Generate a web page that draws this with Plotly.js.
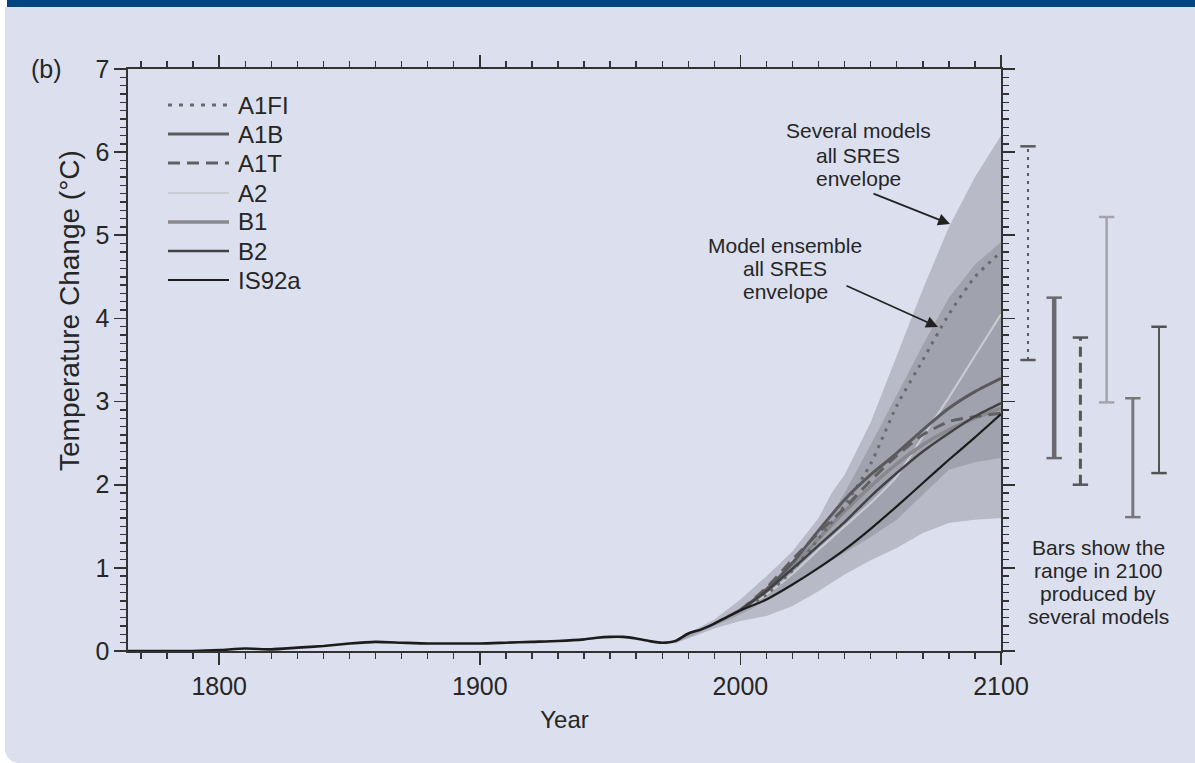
<!DOCTYPE html>
<html>
<head>
<meta charset="utf-8">
<script src="https://cdn.plot.ly/plotly-3.0.1.min.js"></script>
<style>
  html, body { margin:0; padding:0; background:#ffffff; width:1195px; height:763px; overflow:hidden; }
  #hdr { position:absolute; left:7px; top:0; width:1188px; height:7px; background:#03457f; }
  #panel { position:absolute; left:5px; top:7px; width:1190px; height:756px; background:#dce0ee; border-bottom-left-radius:14px; }
  #chart { position:absolute; left:0; top:0; width:1195px; height:763px; }
</style>
</head>
<body>
<div id="hdr"></div>
<div id="panel"></div>
<div id="chart"></div>
<script>
// ---------------- DATA ----------------
const histYears = [1765,1780,1790,1800,1810,1820,1830,1840,1850,1860,1870,1880,1890,1900,1910,1920,1930,1940,1945,1950,1955,1960,1965,1970,1975,1980,1985,1990,1995,2000];
const histTemp  = [0.00,0.00,0.00,0.01,0.03,0.02,0.04,0.06,0.09,0.11,0.10,0.09,0.09,0.09,0.10,0.11,0.12,0.14,0.16,0.17,0.17,0.15,0.12,0.10,0.12,0.21,0.26,0.33,0.41,0.49];

const projYears = [2000,2010,2020,2030,2040,2050,2060,2070,2080,2090,2100];
const A1FI  = [0.49,0.68,0.97,1.35,1.75,2.25,2.95,3.50,4.05,4.50,4.80];
const A1B   = [0.49,0.74,1.06,1.45,1.82,2.12,2.38,2.66,2.92,3.12,3.28];
const A1T   = [0.49,0.76,1.10,1.42,1.72,2.05,2.35,2.60,2.76,2.82,2.86];
const A2    = [0.49,0.68,0.93,1.22,1.50,1.78,2.10,2.58,3.05,3.55,4.05];
const B1    = [0.49,0.72,1.02,1.35,1.68,1.98,2.25,2.48,2.66,2.80,2.92];
const B2    = [0.49,0.72,0.99,1.27,1.55,1.86,2.14,2.40,2.62,2.82,2.98];
const IS92a = [0.49,0.62,0.80,1.00,1.22,1.47,1.74,2.02,2.30,2.57,2.85];

const envYears   = [1975,1990,2000,2010,2020,2030,2035,2040,2050,2060,2070,2080,2090,2100];
const outerUpper = [0.13,0.38,0.62,0.90,1.20,1.60,1.90,2.12,2.75,3.55,4.35,5.10,5.70,6.20];
const outerLower = [0.09,0.27,0.36,0.42,0.54,0.72,0.82,0.92,1.09,1.24,1.42,1.54,1.58,1.60];
const innerUpper = [0.12,0.35,0.52,0.72,1.05,1.45,1.65,1.90,2.48,3.08,3.68,4.25,4.65,4.92];
const innerLower = [0.10,0.30,0.44,0.60,0.79,0.99,1.09,1.18,1.37,1.58,1.88,2.18,2.27,2.32];

const barNames = ['A1FI','A1B','A1T','A2','B1','B2'];
const barLow   = [3.50,2.32,2.00,2.99,1.61,2.14];
const barHigh  = [6.07,4.25,3.77,5.22,3.04,3.90];

const xTickVals = [1800,1900,2000,2100];
const yTickVals = [0,1,2,3,4,5,6,7];

// ---------------- STYLES ----------------
const FONT = 'Arial, "Liberation Sans", Helvetica, sans-serif';
const TXT = '#262626';
const styles = {
  A1FI:  {color:'#6a6a6e', width:3,   dash:'3px,6px'},
  A1B:   {color:'#5a5a5e', width:3,   dash:'solid'},
  A1T:   {color:'#606064', width:3,   dash:'12px,7px'},
  A2:    {color:'#c9ccd4', width:2,   dash:'solid'},
  B1:    {color:'#88888e', width:3.5, dash:'solid'},
  B2:    {color:'#424245', width:2.5, dash:'solid'},
  IS92a: {color:'#1c1c1c', width:2.2, dash:'solid'}
};
const barStyles = {
  A1FI: {color:'#5a5a5e', width:2,   dash:'3px,5px'},
  A1B:  {color:'#6a6a6e', width:4.5, dash:'solid'},
  A1T:  {color:'#55555a', width:3,   dash:'10px,6px'},
  A2:   {color:'#a4a4aa', width:2.5, dash:'solid'},
  B1:   {color:'#77777d', width:3,   dash:'solid'},
  B2:   {color:'#525257', width:2,   dash:'solid'}
};

// pixel helpers for layout positions
const L = 128, R = 15, T = 69, B = 112, W = 1195, H = 763;
const PW = W - L - R, PH = H - T - B;
const px = x => (x - L) / PW;
const py = y => (H - B - y) / PH;
const xMainEnd = px(1001);

// ---------------- TRACES ----------------
const traces = [];
function band(xs, up, lo, color){
  return {x: xs.concat(xs.slice().reverse()), y: up.concat(lo.slice().reverse()),
    type:'scatter', mode:'lines', fill:'toself', fillcolor:color,
    line:{width:0}, hoverinfo:'skip', showlegend:false, xaxis:'x', yaxis:'y'};
}
traces.push(band(envYears, outerUpper, outerLower, '#b8bbc7'));
traces.push(band(envYears, innerUpper, innerLower, '#a0a3ae'));

const series = {A1FI, A1B, A1T, A2, B1, B2, IS92a};
const drawOrder = ['A2','B1','A1FI','A1T','A1B','B2','IS92a'];
drawOrder.forEach(n => {
  const s = styles[n];
  traces.push({x: projYears, y: series[n], type:'scatter', mode:'lines', name:n,
    line:{color:s.color, width:s.width, dash:s.dash, shape:'spline', smoothing:0.6},
    showlegend:false, xaxis:'x', yaxis:'y'});
});
traces.push({x: histYears, y: histTemp, type:'scatter', mode:'lines', name:'observed',
  line:{color:'#1c1c1c', width:2.6, shape:'spline', smoothing:0.6}, showlegend:false, xaxis:'x', yaxis:'y'});

barNames.forEach((n,i) => {
  const s = barStyles[n];
  traces.push({x:[n,n], y:[barLow[i], barHigh[i]], type:'scatter', mode:'lines+markers',
    line:{color:s.color, width:s.width, dash:s.dash},
    marker:{symbol:'line-ew', size:11, line:{color:s.color, width:2.5}},
    showlegend:false, xaxis:'x2', yaxis:'y', cliponaxis:false});
});

// ---------------- LEGEND (drawn manually) ----------------
const legendNames = ['A1FI','A1B','A1T','A2','B1','B2','IS92a'];
const legendRows = [105,134,163,193,222,251,280];
const shapes = [];
const annotations = [];
legendNames.forEach((n,i) => {
  const s = styles[n];
  shapes.push({type:'line', xref:'paper', yref:'paper', x0:px(168), x1:px(229), y0:py(legendRows[i]), y1:py(legendRows[i]),
    line:{color:s.color, width:s.width, dash:s.dash === '3px,6px' ? '4px,7px' : s.dash}});
  annotations.push({xref:'paper', yref:'paper', x:px(236), y:py(legendRows[i]), xanchor:'left', yanchor:'middle',
    text:n, showarrow:false, font:{family:FONT, size:24, color:TXT}});
});

// text annotations
function lines(arr, cx, ys, size){
  arr.forEach((t,i) => annotations.push({xref:'paper', yref:'paper', x:px(cx), y:py(ys[i]),
    xanchor:'center', yanchor:'middle', text:t, showarrow:false, font:{family:FONT, size:size, color:TXT}}));
}
lines(['Several models','all SRES','envelope'], 858, [131,155,178], 21);
lines(['Model ensemble','all SRES','envelope'], 785, [245,268,291], 21);
lines(['Bars show the','range in 2100','produced by','several models'], 1098, [547,570,593,616], 21);

// arrows
annotations.push({xref:'paper', yref:'paper', x:px(950), y:py(224), ax:-78, ay:-31, text:'', showarrow:true,
  arrowhead:2, arrowsize:1.4, arrowwidth:1.7, arrowcolor:'#222'});
annotations.push({xref:'paper', yref:'paper', x:px(938), y:py(327), ax:-93, ay:-42, text:'', showarrow:true,
  arrowhead:2, arrowsize:1.4, arrowwidth:1.7, arrowcolor:'#222'});

// panel label and y title
annotations.push({xref:'paper', yref:'paper', x:px(46), y:py(69), xanchor:'center', yanchor:'middle',
  text:'(b)', showarrow:false, font:{family:FONT, size:25, color:TXT}});
annotations.push({xref:'paper', yref:'paper', x:px(69), y:py(311), xanchor:'center', yanchor:'middle',
  text:'Temperature Change (°C)', textangle:-90, showarrow:false, font:{family:FONT, size:28, color:TXT}});

// ---------------- LAYOUT ----------------
const axisCommon = {
  showline:true, linecolor:'#333', linewidth:1.6, mirror:'ticks',
  ticks:'outside', ticklen:12, tickwidth:1.6, tickcolor:'#333',
  showgrid:false, zeroline:false,
  tickfont:{family:FONT, size:25, color:TXT}
};
const layout = {
  width:W, height:H,
  margin:{l:L, r:R, t:T, b:B, pad:0},
  paper_bgcolor:'rgba(0,0,0,0)', plot_bgcolor:'rgba(0,0,0,0)',
  showlegend:false,
  xaxis: Object.assign({}, axisCommon, {
    domain:[0, xMainEnd], range:[1765,2100], tickmode:'array', tickvals:xTickVals,
    minor:{dtick:10, tick0:1800, ticks:'outside', ticklen:6, tickwidth:1.4, tickcolor:'#333'},
    title:{text:'Year', font:{family:FONT, size:24, color:TXT}, standoff:12}
  }),
  xaxis2: {domain:[xMainEnd,1], range:[-1.03,5.8], type:'category', categoryorder:'array', categoryarray:barNames,
    visible:false, showgrid:false, zeroline:false, anchor:'y'},
  yaxis: Object.assign({}, axisCommon, {
    domain:[0,1], range:[0,7], tickmode:'array', tickvals:yTickVals,
    minor:{dtick:0.1, tick0:0, ticks:'outside', ticklen:6, tickwidth:1.4, tickcolor:'#333'},
    anchor:'x'
  }),
  shapes:shapes,
  annotations:annotations
};

Plotly.newPlot('chart', traces, layout, {displayModeBar:false, staticPlot:true});
</script>
</body>
</html>
